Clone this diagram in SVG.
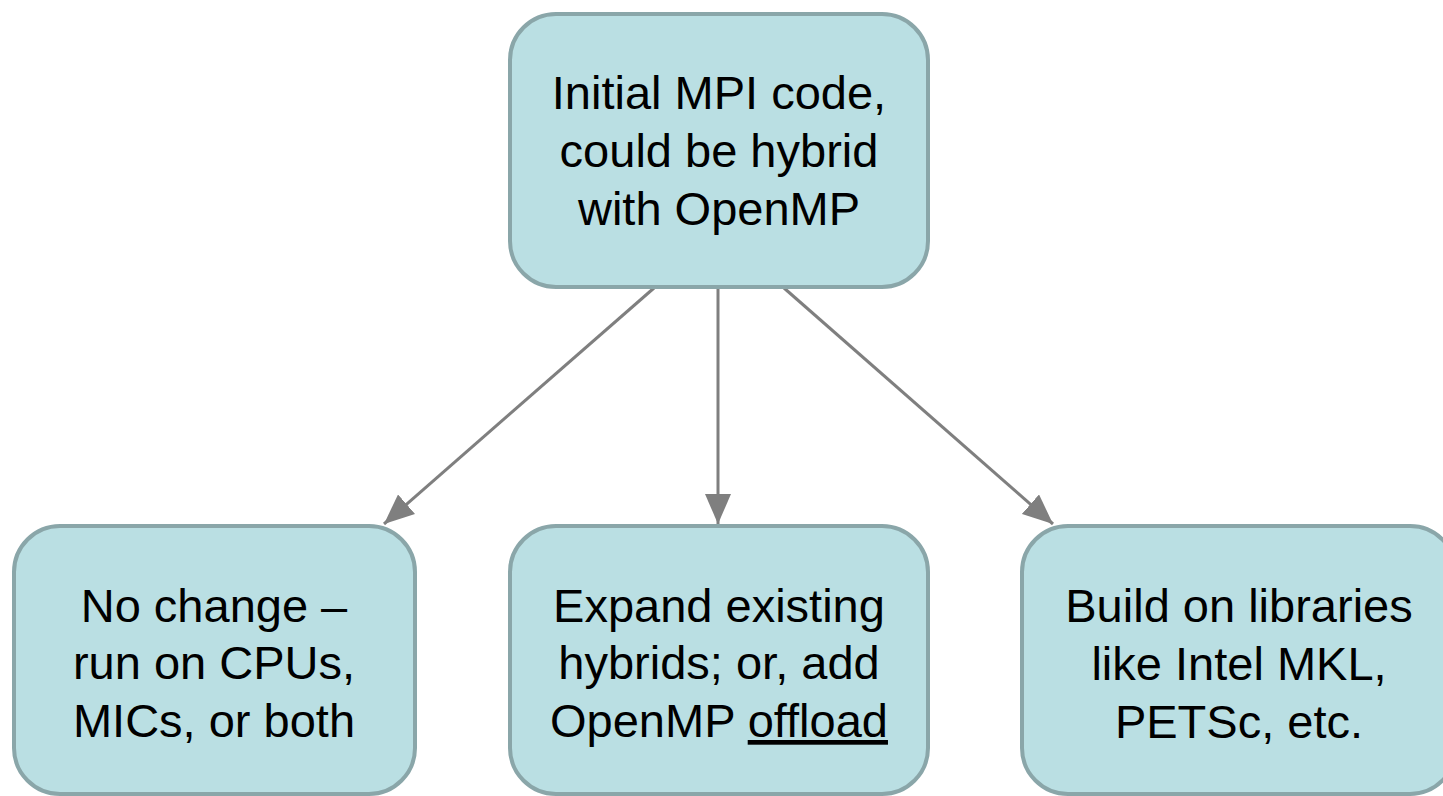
<svg xmlns="http://www.w3.org/2000/svg" width="1443" height="796" viewBox="0 0 1443 796">
<style>
.box{fill:#badfe3;stroke:#8aa6a9;stroke-width:4}
.t{font-family:"Liberation Sans",Arial,sans-serif;font-size:47px;fill:#000;text-anchor:middle}
.c{stroke:#7f7f7f;stroke-width:3;fill:none}
</style>
<defs>
<marker id="ah" markerWidth="10" markerHeight="10" refX="9" refY="5" orient="auto" markerUnits="userSpaceOnUse" viewBox="0 0 10 10">
<path d="M0,0 L10,5 L0,10 z" fill="#7f7f7f"/>
</marker>
<marker id="a" viewBox="0 0 30 26" refX="30" refY="13" markerWidth="30" markerHeight="26" orient="auto" markerUnits="userSpaceOnUse">
<path d="M0,0 L30,13 L0,26 z" fill="#7f7f7f"/>
</marker>
</defs>
<rect width="1443" height="796" fill="#fff"/>
<g id="connectors">
<line class="c" x1="654" y1="288" x2="384" y2="524" marker-end="url(#a)"/>
<line class="c" x1="718" y1="288" x2="718" y2="524" marker-end="url(#a)"/>
<line class="c" x1="784" y1="288" x2="1053" y2="524" marker-end="url(#a)"/>
</g>
<g id="top">
<rect class="box" x="510" y="14" width="418" height="273" rx="46"/>
<text class="t" x="719" y="109">Initial MPI code,</text>
<text class="t" x="719" y="167">could be hybrid</text>
<text class="t" x="719" y="225">with OpenMP</text>
</g>
<g id="left">
<rect class="box" x="14" y="526" width="401" height="268" rx="46"/>
<text class="t" x="214" y="622">No change –</text>
<text class="t" x="214" y="679">run on CPUs,</text>
<text class="t" x="214" y="737">MICs, or both</text>
</g>
<g id="middle">
<rect class="box" x="510" y="526" width="418" height="268" rx="46"/>
<text class="t" x="719" y="622">Expand existing</text>
<text class="t" x="719" y="679">hybrids; or, add</text>
<text class="t" x="719" y="737">OpenMP <tspan text-decoration="underline">offload</tspan></text>
</g>
<g id="right">
<rect class="box" x="1022" y="526" width="434" height="268" rx="46"/>
<text class="t" x="1239" y="622">Build on libraries</text>
<text class="t" x="1239" y="680">like Intel MKL,</text>
<text class="t" x="1239" y="738">PETSc, etc.</text>
</g>
</svg>
